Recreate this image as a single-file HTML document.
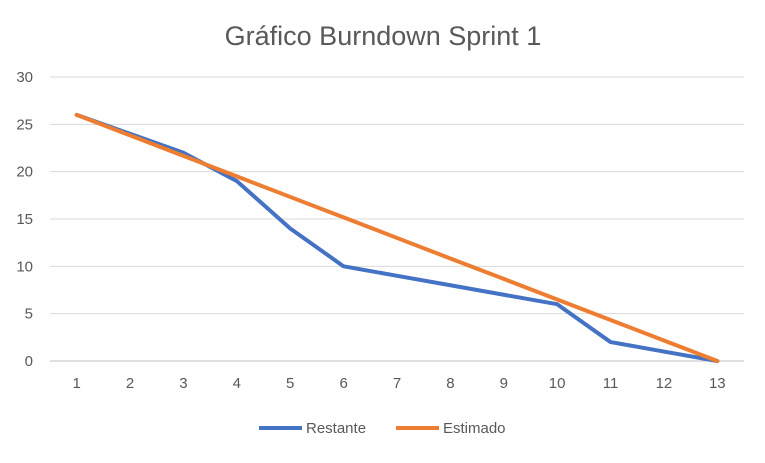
<!DOCTYPE html>
<html><head><meta charset="utf-8"><style>
body{margin:0;background:#fff;font-family:"Liberation Sans",sans-serif;}
svg text{font-family:"Liberation Sans",sans-serif;fill:#595959;}
</style></head><body>
<svg id="chart" width="765" height="458" xmlns="http://www.w3.org/2000/svg">
<rect width="765" height="458" fill="#fff"/>
<text x="383" y="45" text-anchor="middle" font-size="27">Gráfico Burndown Sprint 1</text>
<g id="grid"></g><g id="xlabels"></g><g id="ylabels"></g><g id="series"></g>
<g>
<line x1="259" y1="428" x2="302" y2="428" stroke="#4472C4" stroke-width="4"/>
<text x="306" y="433" font-size="15">Restante</text>
<line x1="396" y1="428" x2="439" y2="428" stroke="#ED7D31" stroke-width="4"/>
<text x="443" y="433" font-size="15">Estimado</text>
</g>
</svg>
<script>
const categories=["1","2","3","4","5","6","7","8","9","10","11","12","13"];
const restante=[26,24,22,19,14,10,9,8,7,6,2,1,0];
const estimado=[26,23.83,21.67,19.5,17.33,15.17,13,10.83,8.67,6.5,4.33,2.17,0];
const yTicks=[0,5,10,15,20,25,30];
const NS="http://www.w3.org/2000/svg";
const x0=50,x1=744,y0=361,y1=77;
const step=(x1-x0)/categories.length;
function xs(i){return x0+step*(i+0.5);}
function ys(v){return y0-(v-0)/(30-0)*(y0-y1);}
function mk(t,a,p){const e=document.createElementNS(NS,t);for(const k in a)e.setAttribute(k,a[k]);p.appendChild(e);return e;}
const grid=document.getElementById('grid'),yl=document.getElementById('ylabels'),xl=document.getElementById('xlabels'),se=document.getElementById('series');
yTicks.forEach(v=>{
 const l=mk('line',{x1:x0,x2:x1,y1:ys(v),y2:ys(v),stroke:v===0?'#BFBFBF':'#D9D9D9','stroke-width':1},grid);
 
 
 const t=mk('text',{x:33,y:ys(v)+5,'text-anchor':'end','font-size':15},yl);
 t.textContent=v;
 
 
});
categories.forEach((c,i)=>{
 const t=mk('text',{x:xs(i),y:388,'text-anchor':'middle','font-size':15},xl);
 t.textContent=c;
 
 
});
function line(d,color,name){
 const p=mk('polyline',{points:d.map((v,i)=>xs(i)+','+ys(v)).join(' '),fill:'none',stroke:color,'stroke-width':4,'stroke-linejoin':'round','stroke-linecap':'round'},se);
 
 
}
line(restante,'#4472C4','series-restante');
line(estimado,'#ED7D31','series-estimado');
</script>
</body></html>
